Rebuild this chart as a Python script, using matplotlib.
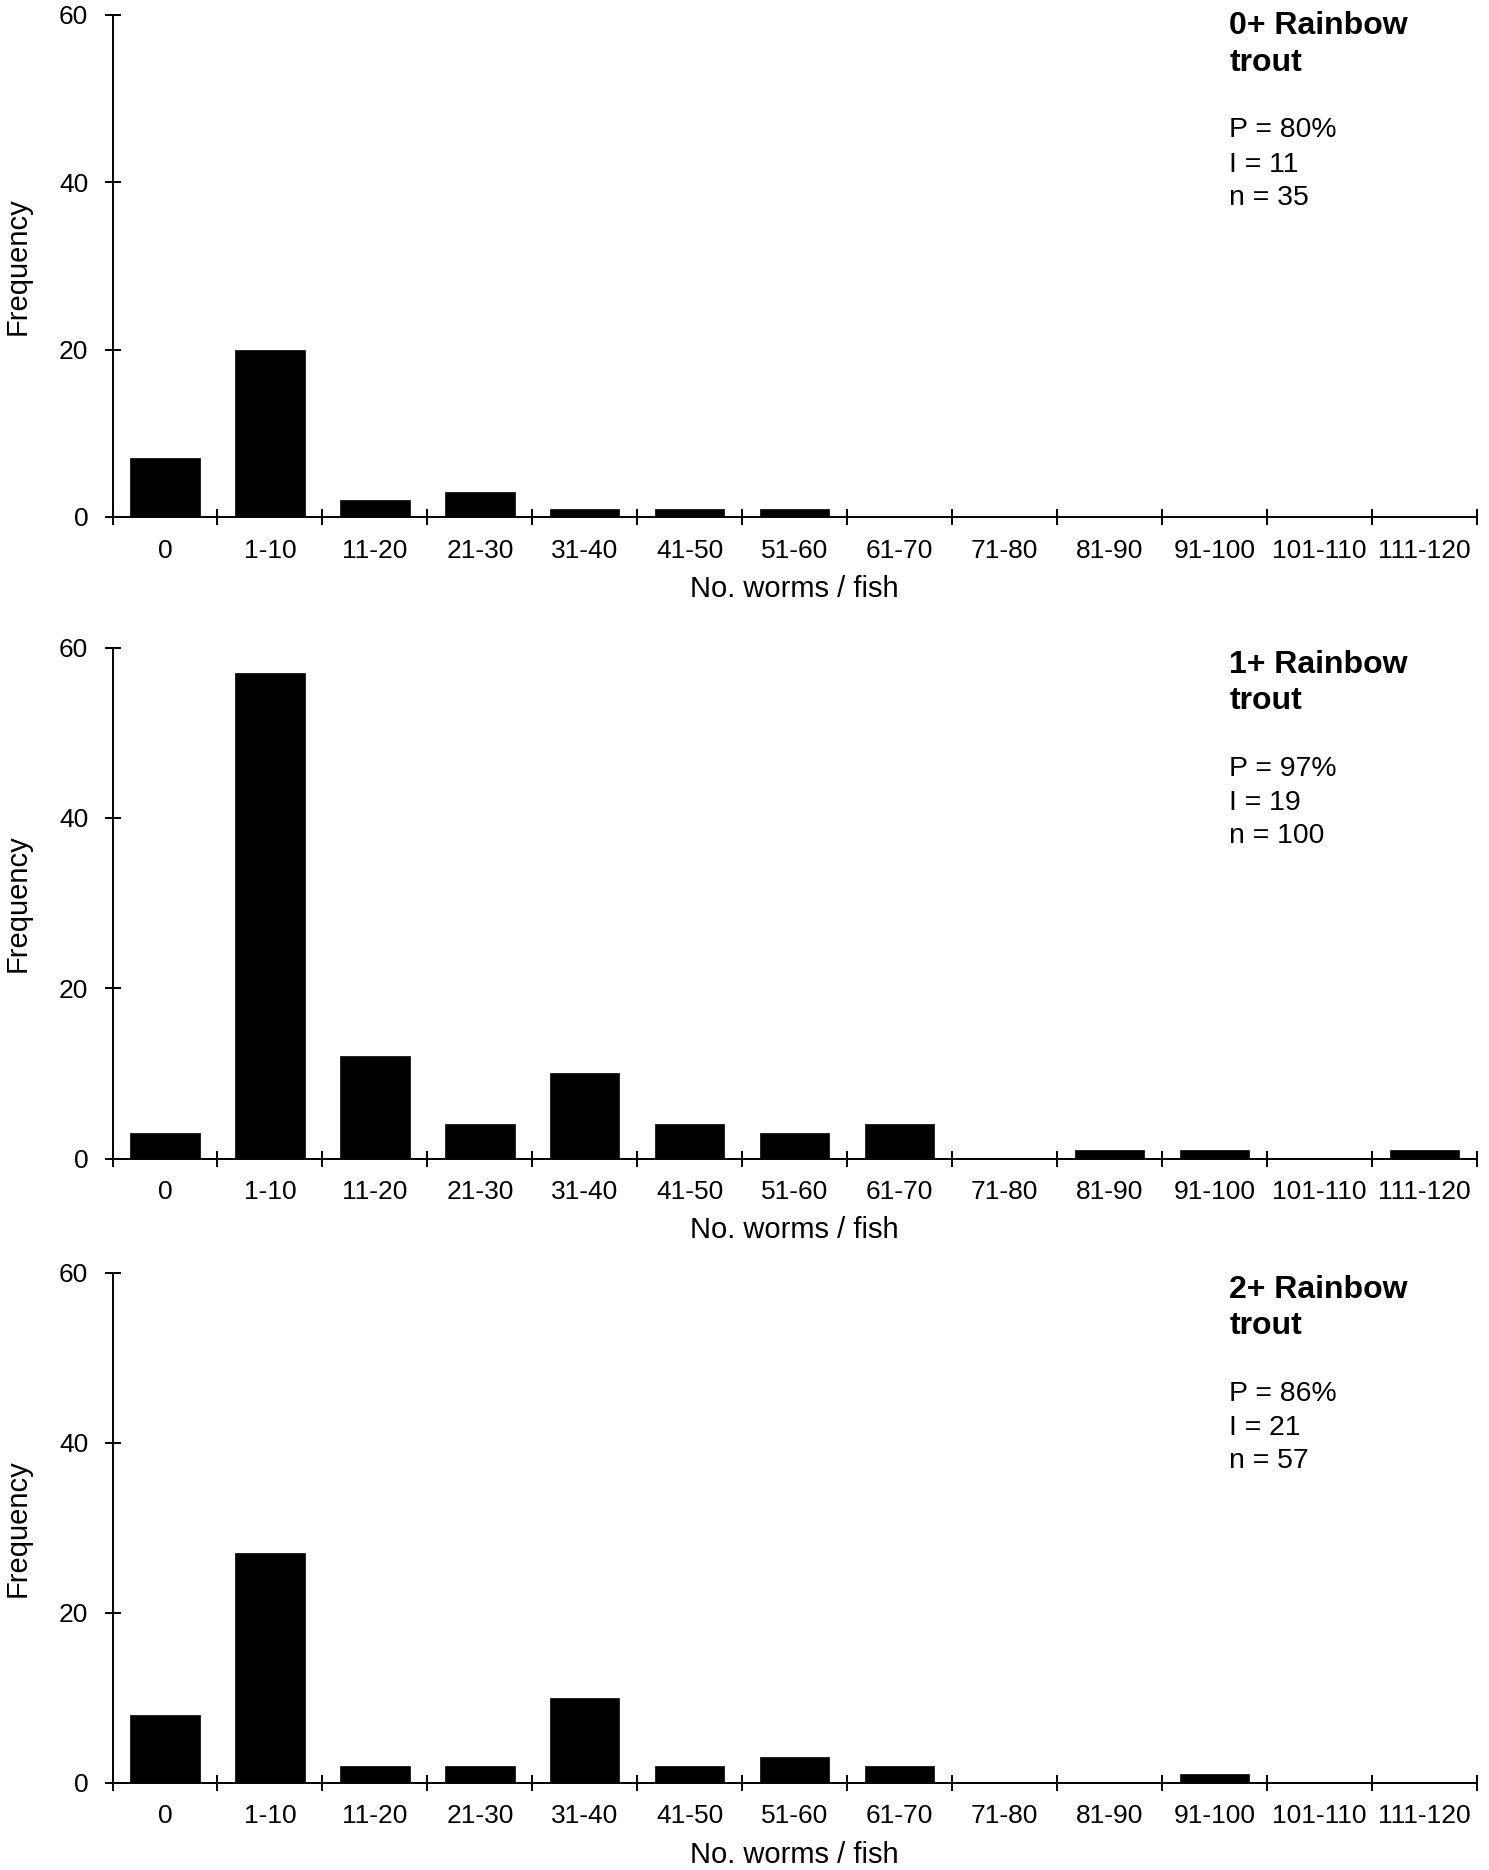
import matplotlib
matplotlib.use("Agg")
import matplotlib.pyplot as plt
import numpy as np

plt.rcParams['font.family'] = ['Liberation Sans', 'DejaVu Sans']

# worm count classes (x axis)
categories = ['0', '1-10', '11-20', '21-30', '31-40', '41-50', '51-60',
              '61-70', '71-80', '81-90', '91-100', '101-110', '111-120']

# frequency of fish per class, one list per age group
freq_0plus = [7, 20, 2, 3, 1, 1, 1, 0, 0, 0, 0, 0, 0]
freq_1plus = [3, 57, 12, 4, 10, 4, 3, 4, 0, 1, 1, 0, 1]
freq_2plus = [8, 27, 2, 2, 10, 2, 3, 2, 0, 0, 1, 0, 0]

titles = ['0+ Rainbow', '1+ Rainbow', '2+ Rainbow']
prevalence = ['P = 80%', 'P = 97%', 'P = 86%']
intensity = ['I = 11', 'I = 19', 'I = 21']
sample_n = ['n = 35', 'n = 100', 'n = 57']

W, H = 1489, 1870
fig = plt.figure(figsize=(W / 100, H / 100), dpi=100)

# axes boxes in pixels: (top, bottom)
left_px, right_px = 112.5, 1477
boxes = [(14.5, 517), (647.7, 1158.5), (1273, 1782.7)]
text_top = [19.8, 25, 25]   # first-baseline offset below axes top, px

all_freq = [freq_0plus, freq_1plus, freq_2plus]
x = np.arange(len(categories))

for i, (top, bot) in enumerate(boxes):
    ax = fig.add_axes([left_px / W, 1 - bot / H,
                       (right_px - left_px) / W, (bot - top) / H])
    h_px = bot - top
    ax.bar(x, all_freq[i], width=0.66, color='black', edgecolor='black',
           linewidth=0.5)
    ax.set_xlim(-0.5, len(categories) - 0.5)
    ax.set_ylim(0, 60)

    for s in ['top', 'right']:
        ax.spines[s].set_visible(False)
    for s in ['left', 'bottom']:
        ax.spines[s].set_linewidth(1.4)

    ax.set_yticks([0, 20, 40, 60])
    ax.tick_params(axis='y', direction='inout', length=11, width=1.4,
                   labelsize=19, pad=12)
    # ticks between classes, labels centred under bars
    ax.set_xticks(np.arange(len(categories) + 1) - 0.5)
    ax.set_xticklabels([])
    ax.set_xticks(x, minor=True)
    ax.set_xticklabels(categories, minor=True)
    ax.tick_params(axis='x', which='major', direction='inout', length=11,
                   width=1.4)
    ax.tick_params(axis='x', which='minor', length=0, labelsize=19, pad=15.5)

    ax.set_ylabel('Frequency', fontsize=21)
    ax.yaxis.set_label_coords(-0.059, 0.5)
    ax.set_xlabel('No. worms / fish', fontsize=21)
    ax.xaxis.set_label_coords(0.5, -58 / h_px)

    tx = (1229.3 - left_px) / (right_px - left_px)
    off = text_top[i]
    lines = [(titles[i], off, 'bold', 23),
             ('trout', off + 36.4, 'bold', 23),
             (prevalence[i], off + 103, 'normal', 20.4),
             (intensity[i], off + 137.4, 'normal', 20.4),
             (sample_n[i], off + 170.5, 'normal', 20.4)]
    for txt, dy, wt, fs in lines:
        ax.annotate(txt, xy=(tx, 1), xycoords='axes fraction',
                    xytext=(0, -dy * 0.72), textcoords='offset points',
                    ha='left', va='baseline', fontsize=fs, fontweight=wt)

fig.savefig('out.png', dpi=100)
